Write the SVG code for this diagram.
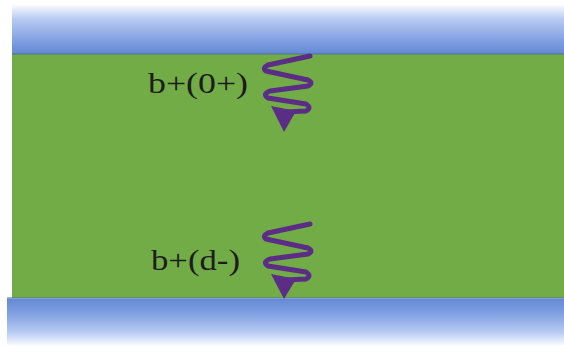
<svg xmlns="http://www.w3.org/2000/svg" width="564" height="352" viewBox="0 0 564 352">
<defs>
<linearGradient id="gTop" x1="0" y1="0" x2="0" y2="1">
<stop offset="0" stop-color="#ffffff"/>
<stop offset="0.3" stop-color="#b7cbf2"/>
<stop offset="0.75" stop-color="#7f9ee2"/>
<stop offset="1" stop-color="#6389d3"/>
</linearGradient>
<linearGradient id="gBot" x1="0" y1="0" x2="0" y2="1">
<stop offset="0" stop-color="#6389d3"/>
<stop offset="0.3" stop-color="#7f9ee2"/>
<stop offset="0.7" stop-color="#b7cbf2"/>
<stop offset="1" stop-color="#ffffff"/>
</linearGradient>
</defs>
<style>
.lbl{font-family:"Liberation Serif","DejaVu Serif",serif;font-size:29px;fill:#1c1c1c}
.sq{fill:none;stroke:#5b2d86;stroke-width:5;stroke-linecap:round;stroke-linejoin:round}
.head{fill:#5b2d86}
</style>
<rect x="0" y="0" width="564" height="352" fill="#ffffff"/>
<g id="top-layer">
<rect x="12" y="4" width="552" height="50" fill="url(#gTop)"/>
</g>
<g id="film">
<rect x="12" y="54" width="552" height="244" fill="#71ac46"/>
<line x1="12" y1="54" x2="564" y2="54" stroke="#4f7398" stroke-width="1.2"/>
<line x1="7" y1="298" x2="564" y2="298" stroke="#4f7398" stroke-width="1.2"/>
</g>
<g id="bottom-layer">
<rect x="7" y="298.5" width="557" height="48" fill="url(#gBot)"/>
</g>
<g id="label-top">
<text class="lbl" x="148" y="93" textLength="100" lengthAdjust="spacingAndGlyphs">b+(0+)</text>
</g>
<g id="label-bottom">
<text class="lbl" x="151" y="270" textLength="89" lengthAdjust="spacingAndGlyphs">b+(d-)</text>
</g>
<g id="connectors">
<g id="wave-top">
<path class="sq" d="M310,56 L268,65 Q262,68 266,71 L308,80 Q314,83 308,86 L270,91 Q262,94 268,98 L306,104 Q312,108 306,111 L286,112"/>
<path class="head" d="M271,106 L296,111 L284,132 Z"/>
</g>
<g id="wave-bottom">
<path class="sq" d="M310,224 L268,233 Q262,236 266,239 L308,248 Q314,251 308,254 L270,259 Q262,262 268,266 L306,272 Q312,276 306,279 L286,280"/>
<path class="head" d="M271,274 L296,279 L284,299 Z"/>
</g>
</g>
</svg>
